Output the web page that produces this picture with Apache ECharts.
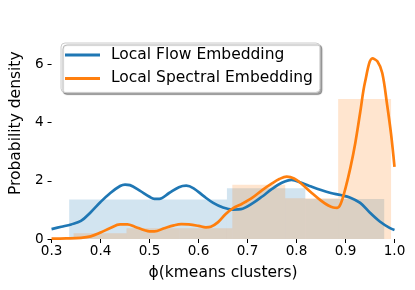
<!DOCTYPE html>
<html>
<head>
<meta charset="utf-8">
<script src="https://cdn.jsdelivr.net/npm/echarts@6/dist/echarts.min.js"></script>
<style>
html,body{margin:0;padding:0;background:#fff;}
#chart{width:415px;height:290px;}
</style>
</head>
<body>
<div id="chart"></div>
<script>
// ---- data ----
const seriesNames = ['Local Flow Embedding', 'Local Spectral Embedding'];

const flowBinEdges = [0.336, 0.497, 0.658, 0.818, 0.979];
const flowHist = [1.36, 1.36, 1.74, 1.37];

const spectralBinEdges = [0.345, 0.453, 0.561, 0.669, 0.777, 0.885, 0.993];
const spectralHist = [0.20, 0.37, 0.37, 1.86, 1.40, 4.81];

const flowKdeX = [0.30,0.32,0.34,0.36,0.38,0.40,0.42,0.44,0.45,0.46,0.48,0.50,0.51,0.52,0.54,0.56,0.575,0.59,0.61,0.63,0.65,0.67,0.69,0.71,0.73,0.75,0.77,0.79,0.81,0.83,0.85,0.87,0.89,0.91,0.93,0.95,0.97,0.99,1.00];
const flowKdeY = [0.34,0.42,0.50,0.62,0.92,1.27,1.58,1.82,1.87,1.85,1.66,1.45,1.38,1.38,1.58,1.78,1.83,1.74,1.48,1.24,1.08,1.01,1.04,1.22,1.46,1.72,1.93,2.03,1.93,1.80,1.68,1.58,1.51,1.42,1.24,0.90,0.60,0.38,0.31];

const spectralKdeX = [0.30,0.33,0.36,0.38,0.40,0.42,0.44,0.455,0.47,0.49,0.50,0.51,0.53,0.55,0.565,0.58,0.60,0.615,0.625,0.64,0.655,0.67,0.69,0.71,0.73,0.75,0.765,0.78,0.795,0.81,0.83,0.85,0.865,0.875,0.883,0.89,0.90,0.91,0.92,0.93,0.94,0.955,0.965,0.975,0.985,0.993,1.00];
const spectralKdeY = [0.01,0.02,0.04,0.09,0.22,0.38,0.50,0.50,0.42,0.30,0.26,0.26,0.37,0.47,0.51,0.50,0.45,0.40,0.42,0.58,0.85,1.05,1.22,1.42,1.68,1.91,2.06,2.14,2.08,1.90,1.60,1.32,1.15,1.08,1.07,1.20,1.75,2.45,3.30,4.35,5.40,6.20,6.10,5.70,4.60,3.60,2.48];

const xTicks = [0.3, 0.4, 0.5, 0.6, 0.7, 0.8, 0.9, 1.0];
const yTicks = [0, 2, 4, 6];

// ---- build ----
function histData(edges, h) {
  return h.map((v, i) => [edges[i], edges[i + 1], v]);
}
function pairs(xs, ys) { return xs.map((x, i) => [x, ys[i]]); }

const BLUE = '#1f77b4', ORANGE = '#ff7f0e';
const FONT = 'DejaVu Sans';

function histSeries(data, fill) {
  return {
    type: 'custom',
    data: data,
    encode: { x: [0, 1], y: 2 },
    silent: true,
    renderItem: function (params, api) {
      const p0 = api.coord([api.value(0), api.value(2)]);
      const p1 = api.coord([api.value(1), 0]);
      return {
        type: 'rect',
        shape: { x: p0[0], y: p0[1], width: p1[0] - p0[0], height: p1[1] - p0[1] },
        style: { fill: fill }
      };
    }
  };
}

const chart = echarts.init(document.getElementById('chart'), null, { renderer: 'canvas' });
chart.setOption({
  animation: false,
  textStyle: { fontFamily: FONT },
  grid: { left: 45, right: 20.5, top: 7.5, bottom: 51, containLabel: false },
  xAxis: {
    type: 'value', min: 0.3, max: 1.0, interval: 0.1,
    axisLine: { show: false },
    axisTick: { show: true, length: 4, lineStyle: { color: '#000', width: 1 }, customValues: xTicks },
    splitLine: { show: false },
    axisLabel: { customValues: xTicks, margin: 5, fontSize: 13.6, color: '#000', fontFamily: FONT,
      formatter: v => v.toFixed(1) },
    name: 'ϕ(kmeans clusters)', nameLocation: 'middle', nameGap: 26,
    nameTextStyle: { fontSize: 15.5, color: '#000', fontFamily: FONT }
  },
  yAxis: {
    type: 'value', min: 0, max: 7.95,
    axisLine: { show: false },
    axisTick: { show: true, length: 4, lineStyle: { color: '#000', width: 1 }, customValues: yTicks },
    splitLine: { show: false },
    axisLabel: { customValues: yTicks, margin: 8, fontSize: 13.6, color: '#000', fontFamily: FONT },
    name: 'Probability density', nameLocation: 'middle', nameGap: 23,
    nameTextStyle: { fontSize: 15.5, color: '#000', fontFamily: FONT }
  },
  legend: {
    data: seriesNames,
    orient: 'vertical',
    left: 61, top: 43,
    padding: [4, 7, 6, 4],
    itemGap: 7.4,
    itemWidth: 35, itemHeight: 3,
    icon: 'rect',
    backgroundColor: '#fff',
    borderColor: '#cccccc', borderWidth: 1, borderRadius: 4,
    shadowColor: 'rgba(0,0,0,0.35)', shadowOffsetX: 2, shadowOffsetY: 2, shadowBlur: 1,
    textStyle: { fontSize: 15.5, color: '#000', fontFamily: FONT, padding: [0, 0, 0, 6] }
  },
  series: [
    histSeries(histData(flowBinEdges, flowHist), 'rgba(31,119,180,0.2)'),
    {
      name: seriesNames[0], type: 'line', data: pairs(flowKdeX, flowKdeY),
      showSymbol: false, smooth: 0.35, color: BLUE,
      lineStyle: { color: BLUE, width: 2.7 }
    },
    histSeries(histData(spectralBinEdges, spectralHist), 'rgba(255,127,14,0.2)'),
    {
      name: seriesNames[1], type: 'line', data: pairs(spectralKdeX, spectralKdeY),
      showSymbol: false, smooth: 0.35, color: ORANGE,
      lineStyle: { color: ORANGE, width: 2.7 }
    }
  ]
});
</script>
</body>
</html>
